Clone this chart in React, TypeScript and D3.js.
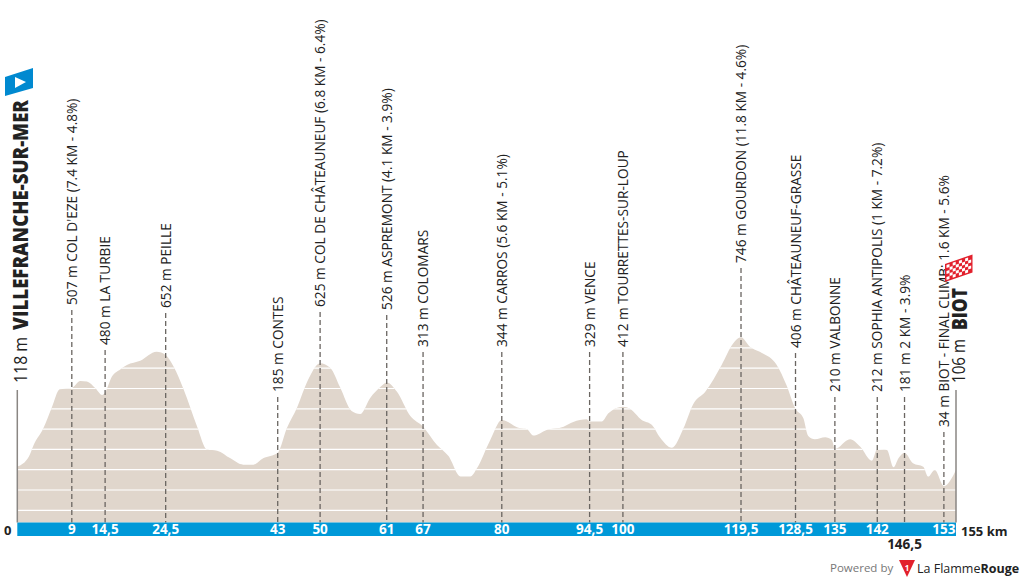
import React, { useEffect, useRef } from 'react';
import * as d3 from 'd3';

const WIDTH = 1024;
const HEIGHT = 582;

// profile: km, metres
const profileKm = [0, 1.9, 2.7, 4.3, 5.7, 7, 9, 10.4, 11.5, 12.9, 14, 14.5, 15.6, 17, 18.1, 20.3, 23, 24.5, 25.8, 27.5, 29.7, 31.3, 33, 35.2, 37.3, 39, 40.6, 43, 44.5, 46.2, 48, 50, 51.7, 53.3, 55.2, 56.6, 58.3, 59.9, 61, 62.7, 64.9, 67, 69.3, 71.2, 73.2, 74.8, 75.9, 78.1, 80, 83, 84.1, 85.2, 87.4, 90.2, 91.8, 94, 94.5, 96.5, 97.6, 100, 101.2, 103.1, 104.8, 106.1, 108.1, 110, 111.6, 113.6, 116.3, 118.2, 119.5, 121, 122.6, 125.4, 127, 128.5, 129.8, 130.6, 131.7, 133.4, 134.5, 135, 137.5, 139.2, 141.1, 142, 143.6, 144.7, 145.5, 146.5, 147.9, 149.6, 150.4, 151.5, 153, 155];
const profileEle = [115, 164, 222, 304, 407, 496, 503, 537, 534, 501, 468, 480, 558, 594, 616, 637, 681, 665, 608, 493, 312, 200, 194, 156, 125, 125, 156, 184, 304, 407, 542, 624, 601, 506, 389, 374, 455, 506, 530, 484, 364, 312, 222, 167, 66, 66, 107, 246, 345, 304, 300, 268, 296, 312, 335, 348, 337, 337, 378, 410, 399, 345, 320, 260, 208, 304, 423, 484, 616, 722, 752, 705, 681, 616, 517, 400, 353, 266, 250, 260, 246, 202, 250, 213, 144, 202, 197, 112, 156, 184, 132, 115, 66, 99, 20, 99];

// markers along the route
const markerKm = [9, 14.5, 24.5, 43, 50, 61, 67, 80, 94.5, 100, 119.5, 128.5, 135, 142, 146.5, 153];
const markerKmLabels = ['9', '14,5', '24,5', '43', '50', '61', '67', '80', '94,5', '100', '119,5', '128,5', '135', '142', '146,5', '153'];
const markerNames = [
  "507 m COL D'EZE (7.4 KM - 4.8%)",
  '480 m LA TURBIE',
  '652 m PEILLE',
  '185 m CONTES',
  '625 m COL DE CHÂTEAUNEUF (6.8 KM - 6.4%)',
  '526 m ASPREMONT (4.1 KM - 3.9%)',
  '313 m COLOMARS',
  '344 m CARROS (5.6 KM - 5.1%)',
  '329 m VENCE',
  '412 m TOURRETTES-SUR-LOUP',
  '746 m GOURDON (11.8 KM - 4.6%)',
  '406 m CHÂTEAUNEUF-GRASSE',
  '210 m VALBONNE',
  '212 m SOPHIA ANTIPOLIS (1 KM - 7.2%)',
  '181 m 2 KM - 3.9%',
  '34 m BIOT - FINAL CLIMB: 1.6 KM - 5.6%',
];
// pixel row where each marker's dashes stop
const markerTops = [310, 350, 313, 397, 312, 315, 352, 352, 352, 352, 268, 353, 397, 397, 397, 432];
const gridLevels = [-100, 0, 100, 200, 300, 400, 500, 600, 700];

const FONT = '"Open Sans", sans-serif';
const INK = '#222222';

export default function App() {
  const svgRef = useRef<SVGSVGElement>(null);

  useEffect(() => {
    if (!svgRef.current) return;
    const svg = d3.select(svgRef.current);
    svg.selectAll('*').remove();

    const x = d3.scaleLinear().domain([0, 155]).range([17.3, 956]);
    const y = d3.scaleLinear().domain([-160, 800]).range([522.5, 327.6]);

    const points = profileKm.map((km, i) => [km, profileEle[i]] as [number, number]);
    const area = d3.area<[number, number]>()
      .x(d => x(d[0]))
      .y0(y(-160))
      .y1(d => y(d[1]))
      .curve(d3.curveMonotoneX);

    svg.append('defs').append('clipPath').attr('id', 'profile-clip')
      .append('path').datum(points).attr('d', area);

    svg.append('path').datum(points).attr('fill', '#e0d6cc').attr('d', area);

    // white level lines, only inside the profile
    svg.append('g').attr('clip-path', 'url(#profile-clip)')
      .selectAll('line').data(gridLevels).join('line')
      .attr('x1', 17).attr('x2', 956)
      .attr('y1', d => y(d)).attr('y2', d => y(d))
      .attr('stroke', '#fff').attr('stroke-width', 1.2);

    // blue km band
    svg.append('rect')
      .attr('x', x(0)).attr('y', 522.5)
      .attr('width', x(155) - x(0)).attr('height', 13.5)
      .attr('fill', '#0099d8');

    // start and finish posts
    svg.selectAll('line.post').data([0, 155]).join('line')
      .attr('class', 'post')
      .attr('x1', d => x(d)).attr('x2', d => x(d))
      .attr('y1', 390).attr('y2', 522.5)
      .attr('stroke', '#8a8683').attr('stroke-width', 1.5);

    // dashed markers
    svg.append('g').selectAll('line').data(markerKm).join('line')
      .attr('x1', d => x(d)).attr('x2', d => x(d))
      .attr('y1', (_, i) => markerTops[i]).attr('y2', 522.5)
      .attr('stroke', '#6a6561').attr('stroke-width', 1.3)
      .attr('stroke-dasharray', '5 3');

    // rotated place names
    svg.append('g').selectAll('text').data(markerNames).join('text')
      .attr('transform', (_, i) => `translate(${x(markerKm[i]) + 5},${markerTops[i] - 5}) rotate(-90)`)
      .attr('font-family', FONT).attr('font-size', 13.7)
      .attr('fill', INK)
      .text(d => d);

    // km numbers in the band
    svg.append('g').selectAll('text').data(markerKmLabels).join('text')
      .attr('x', (_, i) => x(markerKm[i]))
      .attr('y', (_, i) => (markerKm[i] === 146.5 ? 549 : 534))
      .attr('text-anchor', 'middle')
      .attr('font-family', FONT).attr('font-size', 13.5).attr('font-weight', 700)
      .attr('fill', (_, i) => (markerKm[i] === 146.5 ? INK : '#fff'))
      .text(d => d);

    svg.append('text').attr('x', 4).attr('y', 535)
      .attr('font-family', FONT).attr('font-size', 13).attr('font-weight', 700)
      .attr('fill', INK).text('0');
    svg.append('text').attr('x', 961).attr('y', 536)
      .attr('font-family', FONT).attr('font-size', 13).attr('font-weight', 700)
      .attr('fill', INK).text('155 km');

    // start title
    svg.append('text')
      .attr('transform', 'translate(26.5,383) rotate(-90)')
      .attr('font-family', FONT).attr('font-size', 18).attr('fill', INK)
      .attr('textLength', 46).attr('lengthAdjust', 'spacingAndGlyphs')
      .text('118 m');
    svg.append('text')
      .attr('transform', 'translate(28,330) rotate(-90)')
      .attr('font-family', FONT).attr('font-size', 21).attr('font-weight', 800).attr('fill', INK)
      .attr('textLength', 230).attr('lengthAdjust', 'spacingAndGlyphs')
      .text('VILLEFRANCHE-SUR-MER');

    // finish title
    svg.append('text')
      .attr('transform', 'translate(965,383) rotate(-90)')
      .attr('font-family', FONT).attr('font-size', 18).attr('fill', INK)
      .attr('textLength', 44).attr('lengthAdjust', 'spacingAndGlyphs')
      .text('106 m');
    svg.append('text')
      .attr('transform', 'translate(967,330) rotate(-90)')
      .attr('font-family', FONT).attr('font-size', 21).attr('font-weight', 800).attr('fill', INK)
      .attr('textLength', 42).attr('lengthAdjust', 'spacingAndGlyphs')
      .text('BIOT');

    // start flag
    svg.append('polygon').attr('points', '5,77 33,68 33,88 5,96').attr('fill', '#0089d0');
    svg.append('polygon').attr('points', '15,77 26,82 15,88').attr('fill', '#fff');

    // finish flag, checkered
    const flag = svg.append('g').attr('transform', 'translate(945,264) skewY(-19)');
    flag.append('rect').attr('width', 27.5).attr('height', 18).attr('fill', '#e2202c');
    const cells = d3.range(40).map(i => ({ c: i % 8, r: Math.floor(i / 8) })).filter(d => (d.c + d.r) % 2 === 0);
    flag.selectAll('rect.cell').data(cells).join('rect')
      .attr('class', 'cell')
      .attr('x', d => 1.5 + d.c * 3.1).attr('y', d => 1.5 + d.r * 3)
      .attr('width', 3).attr('height', 3).attr('fill', '#fff');

    // credit line
    svg.append('text').attr('x', 830).attr('y', 572)
      .attr('font-family', FONT).attr('font-size', 11.5).attr('fill', '#777')
      .text('Powered by');
    svg.append('polygon').attr('points', '899,560 915,560 907,577').attr('fill', '#e2202c');
    svg.append('text').attr('x', 907).attr('y', 570.5)
      .attr('text-anchor', 'middle').attr('font-family', FONT).attr('font-size', 8).attr('font-weight', 700)
      .attr('fill', '#fff').text('1');
    const brand = svg.append('text').attr('x', 917).attr('y', 572.5)
      .attr('font-family', FONT).attr('font-size', 12.5).attr('fill', INK);
    brand.append('tspan').text('La Flamme');
    brand.append('tspan').attr('font-weight', 700).text('Rouge');
  }, []);

  return (
    <svg
      ref={svgRef}
      width={WIDTH}
      height={HEIGHT}
      style={{ position: 'absolute', left: 0, top: 0, display: 'block', background: '#fff' }}
    />
  );
}
